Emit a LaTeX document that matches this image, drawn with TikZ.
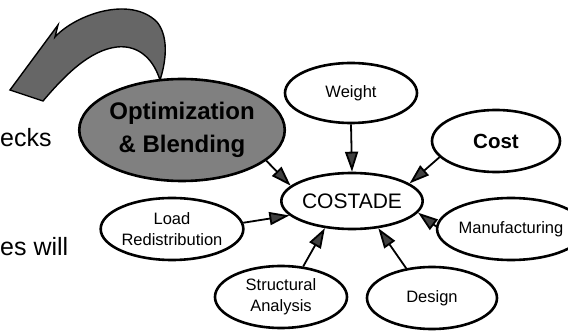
\documentclass[tikz,border=0pt]{standalone}
\usepackage{fontspec}
\setmainfont{Liberation Sans}
\usetikzlibrary{shapes.geometric,arrows.meta}
\newcommand\fsz[2]{\fontsize{#1}{#2}\selectfont}
\tikzset{
  ell/.style={ellipse, draw, line width=2.6pt, inner sep=0pt, align=center, font=\fsz{16.5}{21}},
  arr/.style={line width=1.8pt, -{Triangle[length=20pt,width=13pt,fill=black!75]}},
  bigarrow/.style={draw, line width=1.4pt, fill=black!60},
  sidetext/.style={font=\fsz{25}{30}, inner sep=0pt, anchor=base west}
}
\begin{document}
\begin{tikzpicture}[x=1pt,y=-1pt]
\useasboundingbox (0,0) rectangle (568,331);
% big curved arrow
\path[bigarrow] (10,90) -- (58,25) -- (55,37)
  .. controls (75,15) and (130,-5) .. (157,22)
  .. controls (170,38) and (165,65) .. (160,80)
  .. controls (152,55) and (135,45) .. (117,47)
  .. controls (90,50) and (65,75) .. (43,101) -- cycle;
% side text
\node[sidetext] (t1) at (0,147) {ecks};
\node[sidetext] (t2) at (0,256) {es will};
% ellipses
\node[ell, fill=black!50, minimum width=194pt, minimum height=102pt, font=\bfseries\fsz{24}{33}] (opt) at (182,130) {Optimization\\\& Blending};
\node[ell, minimum width=132pt, minimum height=60pt] (weight) at (351,93) {Weight};
\node[ell, minimum width=128pt, minimum height=62pt, font=\bfseries\fsz{20.5}{24}] (cost) at (496,141) {Cost};
\node[ell, minimum width=128pt, minimum height=56pt, font=\fsz{21}{25}] (costade) at (352,201) {COSTADE};
\node[ell, minimum width=118pt, minimum height=62pt] (manu) at (511,229) {Manufacturing};
\node[ell, minimum width=130pt, minimum height=62pt] (load) at (172,229) {Load\\Redistribution};
\node[ell, minimum width=132pt, minimum height=62pt] (struct) at (281,297) {Structural\\Analysis};
\node[ell, minimum width=130pt, minimum height=62pt] (design) at (432,298) {Design};
% connectors
\draw[arr] (weight.south) -- (costade.north);
\draw[arr] (opt.-20) -- (costade.166);
\draw[arr] (cost.196) -- (costade.17);
\draw[arr] (manu.178) -- (costade.-10);
\draw[arr] (load.5) -- (costade.193);
\draw[arr] (struct.54) -- (costade.225);
\draw[arr] (design.131) -- (costade.-46);
\end{tikzpicture}
\end{document}
